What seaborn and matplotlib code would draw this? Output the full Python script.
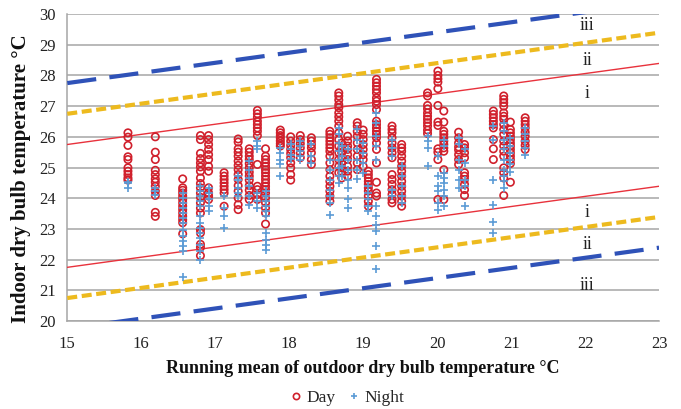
import numpy as np
import pandas as pd
import matplotlib
matplotlib.use("Agg")
import matplotlib.pyplot as plt
from matplotlib.lines import Line2D
import seaborn as sns

# ---------------- data ----------------
run_mean = [15.82, 16.19, 16.56, 16.80, 16.91, 17.12, 17.31, 17.46, 17.57, 17.68,
            17.88, 18.02, 18.15, 18.30, 18.55, 18.67, 18.71, 18.79, 18.92, 19.00,
            19.07, 19.18, 19.39, 19.52, 19.87, 20.01, 20.09, 20.29, 20.37, 20.76,
            20.90, 20.99, 21.19]

day_temps = [
    [26.13, 25.99, 25.72, 25.35, 25.26, 24.99, 24.88, 24.77, 24.66, 24.59],
    [26.0, 25.5, 25.26, 24.91, 24.77, 24.63, 24.52, 24.39, 24.23, 24.09, 23.54, 23.41],
    [24.63, 24.34, 24.26, 24.17, 24.07, 23.96, 23.85, 23.74, 23.63, 23.52, 23.41, 23.30, 23.20, 22.84],
    [26.04, 25.91, 25.46, 25.29, 25.15, 25.02, 24.88, 24.66, 24.48, 24.34, 24.17, 24.03, 23.85,
     23.68, 23.52, 22.98, 22.87, 22.5, 22.4, 22.13],
    [26.04, 25.91, 25.75, 25.59, 25.42, 25.26, 25.04, 24.88, 24.34, 24.17, 24.07, 23.96],
    [24.83, 24.72, 24.61, 24.5, 24.39, 24.28, 24.17, 23.74],
    [25.93, 25.83, 25.61, 25.5, 25.37, 25.21, 25.07, 24.93, 24.77, 24.61, 24.41, 24.23, 24.01, 23.79, 23.63],
    [25.61, 25.5, 25.37, 25.26, 25.13, 24.99, 24.85, 24.72, 24.59, 24.41, 24.26, 24.09, 23.96],
    [26.86, 26.75, 26.64, 26.51, 26.4, 26.29, 26.18, 26.04, 25.1, 24.39, 24.28, 24.12, 23.96],
    [25.61, 25.37, 25.26, 25.15, 25.04, 24.93, 24.83, 24.72, 24.61, 24.5, 24.39, 24.28, 24.17,
     24.01, 23.85, 23.68, 23.52, 23.16],
    [26.22, 26.13, 26.04, 25.96, 25.87, 25.78, 25.7],
    [26.0, 25.86, 25.72, 25.59, 25.46, 25.32, 25.15, 24.99, 24.77, 24.59],
    [26.04, 25.91, 25.78, 25.64, 25.48, 25.32],
    [25.97, 25.86, 25.75, 25.64, 25.48, 25.26, 25.1],
    [26.18, 26.08, 25.97, 25.86, 25.75, 25.64, 25.53, 25.37, 25.15, 24.93, 24.72, 24.55, 24.39,
     24.23, 24.07, 23.9],
    [27.43, 27.33, 27.2, 27.05, 26.95, 26.78, 26.65, 26.51, 26.35, 26.13, 25.91, 25.7, 25.48,
     25.26, 25.04, 24.83],
    [25.8, 25.64, 25.48, 25.32, 25.15, 24.99, 24.83, 24.66],
    [26.02, 25.86, 25.7, 25.59, 25.42, 25.26, 25.04, 24.88, 24.72],
    [26.46, 26.35, 26.18, 26.02, 25.8, 25.59, 25.37, 25.15, 24.93],
    [26.22, 26.08, 25.91, 25.75, 25.59, 25.42, 25.26, 25.04],
    [24.88, 24.77, 24.66, 24.55, 24.45, 24.34, 24.23, 24.07, 23.9, 23.74],
    [27.87, 27.76, 27.65, 27.54, 27.43, 27.27, 27.16, 27.05, 26.89, 26.51, 26.4, 26.29, 26.18,
     26.08, 25.97, 25.8, 25.59, 25.15, 24.52, 24.17, 24.07],
    [26.35, 26.24, 26.13, 25.97, 25.8, 25.64, 25.48, 25.32, 24.77, 24.61, 24.45, 24.28, 24.12,
     23.96, 23.85],
    [25.75, 25.64, 25.53, 25.37, 25.21, 25.04, 24.88, 24.72, 24.55, 24.39, 24.23, 24.07, 23.9, 23.74],
    [27.43, 27.33, 27.02, 26.91, 26.78, 26.67, 26.57, 26.46, 26.35, 26.22, 26.11],
    [28.14, 28.0, 27.89, 27.78, 27.57, 27.02, 26.48, 26.37, 25.61, 25.5, 25.26, 23.96],
    [26.84, 26.48, 26.18, 26.08, 25.97, 25.86, 25.75, 25.64, 25.53, 24.93, 23.96],
    [26.15, 25.97, 25.8, 25.67, 25.57, 25.42, 25.26, 25.1],
    [25.75, 25.64, 25.48, 25.32, 24.83, 24.72, 24.61, 24.45, 24.28, 24.09],
    [26.84, 26.73, 26.62, 26.51, 26.4, 26.29, 25.91, 25.61, 25.26],
    [27.33, 27.22, 27.11, 27.0, 26.78, 26.67, 26.57, 26.4, 26.24, 26.08, 25.86, 25.7, 25.53,
     25.37, 24.99, 24.83, 24.66, 24.09],
    [26.48, 26.24, 26.13, 26.02, 25.91, 25.8, 25.7, 25.59, 25.48, 25.37, 25.26, 25.13, 24.52],
    [26.62, 26.51, 26.4, 26.29, 26.15, 26.02, 25.86, 25.72, 25.59],
]

night_temps = [
    [24.52, 24.48, 24.34],
    [24.34, 24.23, 24.12],
    [24.17, 24.01, 23.85, 23.68, 23.52, 23.36, 23.2, 22.98, 22.76, 22.6, 22.43, 22.27, 21.43],
    [24.39, 24.23, 24.07, 23.9, 23.74, 23.41, 23.2, 23.03, 22.87, 22.7, 22.49, 22.27, 22.0],
    [24.34, 24.17, 23.96, 23.74, 23.58],
    [24.07, 23.68, 23.41, 23.03],
    [24.72, 24.61, 24.34, 24.17, 24.07],
    [25.21, 24.93, 24.66, 24.39, 24.07, 23.79],
    [25.86, 25.7, 25.59, 24.17, 23.9, 23.68],
    [24.23, 24.07, 23.9, 23.74, 23.58, 23.41, 22.87, 22.65, 22.49, 22.33],
    [25.64, 25.48, 25.26, 25.1, 24.72],
    [25.75, 25.59, 25.42, 25.28],
    [25.86, 25.7, 25.53, 25.37, 25.26],
    [25.75, 25.37, 25.15],
    [25.26, 24.93, 24.61, 24.28, 24.07, 23.85, 23.47],
    [26.29, 26.08, 25.8, 25.53, 25.26, 24.99, 24.72, 24.5],
    [25.7, 25.37, 25.04, 24.72],
    [25.59, 25.26, 24.93, 24.61, 24.34, 23.96, 23.68],
    [26.24, 25.91, 25.59, 25.26, 24.93, 24.63],
    [25.8, 25.48, 25.15, 24.83],
    [24.39, 24.17, 23.96, 23.74, 23.58],
    [26.78, 26.46, 26.02, 25.7, 25.26, 23.74, 23.41, 23.14, 22.92, 22.45, 21.69],
    [25.91, 25.64, 25.37, 24.28, 24.07],
    [25.04, 24.72, 24.39, 24.07, 23.85],
    [26.02, 25.86, 25.64, 25.04],
    [25.37, 24.72, 24.39, 24.23, 23.85, 23.63],
    [25.91, 25.7, 24.83, 24.66, 24.5, 24.28, 24.07, 23.74],
    [25.97, 25.75, 25.26, 24.93, 24.61, 24.34],
    [25.59, 25.15, 24.61, 24.39, 23.74],
    [26.35, 25.91, 24.59, 23.79, 23.22, 22.87],
    [26.46, 26.18, 25.91, 25.59, 25.26, 24.93, 24.72, 24.55, 24.34],
    [25.97, 25.7, 25.48, 25.26, 25.1, 24.85],
    [26.29, 26.08, 25.86, 25.64, 25.42],
]

# comfort category boundaries (end points at x = 15 and x = 23)
line_x = [15, 23]
cat_i_upper = [25.75, 28.39]
cat_i_lower = [21.75, 24.39]
cat_ii_upper = [26.75, 29.39]
cat_ii_lower = [20.75, 23.39]
cat_iii_upper = [27.75, 30.39]
cat_iii_lower = [19.75, 22.39]

x_ticks = [15, 16, 17, 18, 19, 20, 21, 22, 23]
y_ticks = [20, 21, 22, 23, 24, 25, 26, 27, 28, 29, 30]

# ---------------- build tables ----------------
day_df = pd.DataFrame([(x, y) for x, ys in zip(run_mean, day_temps) for y in ys],
                      columns=["x", "y"])
night_df = pd.DataFrame([(x, y) for x, ys in zip(run_mean, night_temps) for y in ys],
                        columns=["x", "y"])

# ---------------- style ----------------
sns.set_style("white")
plt.rcParams["font.family"] = ["Liberation Serif", "DejaVu Serif"]

RED = "#D0202C"
BLUE_PT = "#5B9BD5"
DARK_BLUE = "#2F52B8"
GOLD = "#EDBA1E"
RED_LINE = "#E8323C"
GRID = "#A6A6A6"

fig = plt.figure(figsize=(6.81, 4.09), dpi=100)
ax = fig.add_axes([0.0988, 0.2150, 0.8690, 0.7508])

ax.set_xlim(15, 23)
ax.set_ylim(20, 30)
ax.set_yticks(y_ticks)
ax.set_xticks(x_ticks)
ax.yaxis.grid(True, color=GRID, linewidth=1.1)
ax.xaxis.grid(False)
ax.set_axisbelow(True)

# comfort lines
ax.plot(line_x, cat_iii_upper, color=DARK_BLUE, lw=3.0, linestyle=(0, (7.0, 3.2)),
        dash_capstyle="butt", zorder=3)
ax.plot(line_x, cat_iii_lower, color=DARK_BLUE, lw=3.0, linestyle=(0, (7.0, 3.2)),
        dash_capstyle="butt", zorder=3)
ax.plot(line_x, cat_ii_upper, color=GOLD, lw=3.0, linestyle=(0, (2.4, 1.1)),
        dash_capstyle="butt", zorder=3)
ax.plot(line_x, cat_ii_lower, color=GOLD, lw=3.0, linestyle=(0, (2.4, 1.1)),
        dash_capstyle="butt", zorder=3)
ax.plot(line_x, cat_i_upper, color=RED_LINE, lw=1.0, zorder=3)
ax.plot(line_x, cat_i_lower, color=RED_LINE, lw=1.0, zorder=3)

# scatter
sns.scatterplot(data=day_df, x="x", y="y", ax=ax, marker="o", s=28,
                color=RED, facecolors="none", edgecolor=RED, linewidth=1.2, zorder=4)
sns.scatterplot(data=night_df, x="x", y="y", ax=ax, marker="+", s=32,
                color=BLUE_PT, linewidth=1.2, zorder=5)

# category labels
for txt, yv in [("iii", 29.62), ("ii", 28.5), ("i", 27.42),
                ("i", 23.55), ("ii", 22.5), ("iii", 21.17)]:
    ax.text(22.03, yv, txt, fontsize=13, ha="center", va="center", color="#222222")

# spines / ticks
for s in ["top", "right"]:
    ax.spines[s].set_visible(False)
for s in ["left", "bottom"]:
    ax.spines[s].set_color(GRID)
    ax.spines[s].set_linewidth(1.1)
ax.tick_params(axis="both", which="major", direction="out", length=5.5, width=1.0,
               color=GRID, labelsize=12, labelcolor="#222222")
ax.tick_params(axis="y", pad=3)
ax.tick_params(axis="x", pad=5)

ax.set_xlabel("Running mean of outdoor dry bulb temperature °C", fontsize=13,
              fontweight="bold", labelpad=6, color="#111111")
ax.set_ylabel("Indoor dry bulb temperature °C", fontsize=15, fontweight="bold",
              color="#111111")
ax.yaxis.set_label_coords(-0.062, 0.4625)

handles = [
    Line2D([], [], linestyle="none", marker="o", markersize=4.5, markerfacecolor="none",
           markeredgecolor=RED, markeredgewidth=1.2, label="Day"),
    Line2D([], [], linestyle="none", marker="+", markersize=5, markeredgecolor=BLUE_PT,
           markeredgewidth=1.2, label="Night"),
]
fig.legend(handles=handles, loc="center", bbox_to_anchor=(0.508, 1 - 398 / 409), ncol=2,
           frameon=False, fontsize=12.5, handletextpad=0.1, columnspacing=0.6,
           handlelength=1.0, borderpad=0.0)

fig.savefig("out.png", dpi=100)
